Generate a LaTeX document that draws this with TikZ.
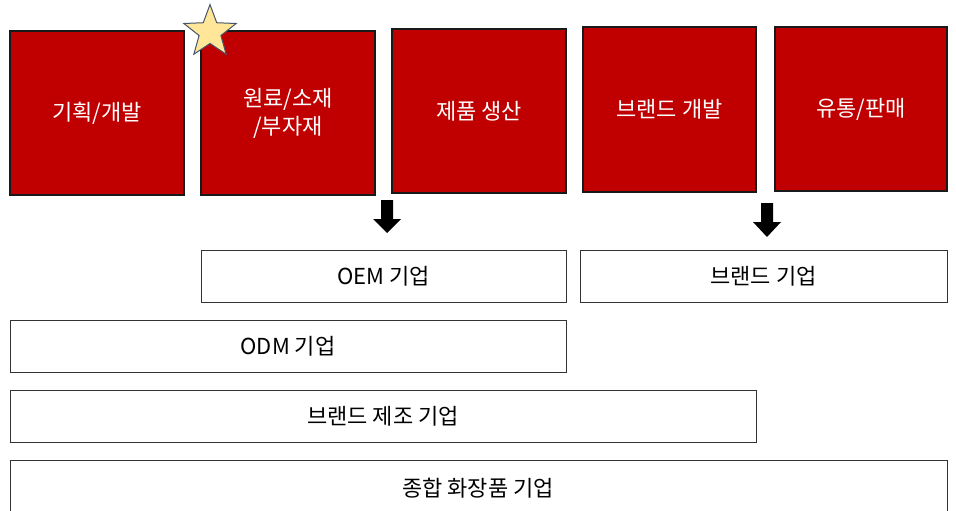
\documentclass[tikz,border=0pt]{standalone}
\usepackage{fontspec}
\setmainfont{Noto Sans CJK KR}
\usetikzlibrary{shapes.geometric}
\definecolor{boxred}{HTML}{C00000}
\definecolor{starfill}{HTML}{FFE699}
\definecolor{starline}{HTML}{44546A}
\begin{document}
\begin{tikzpicture}[x=1pt,y=-1pt,
  redbox/.style={draw=black!90,line width=1.2pt,fill=boxred,text=white,font=\fontsize{22}{28}\selectfont,align=center},
  whitebox/.style={draw=black!80,line width=1pt,fill=white,font=\fontsize{22}{28}\selectfont},
  blockarrow/.style={fill=black}]
\useasboundingbox (0,0) rectangle (956,511);
% red process boxes
\draw[redbox] (10,31) rectangle (184,195) node[midway] (r1) {기획/개발};
\draw[redbox] (201,31) rectangle (375,195) node[midway] (r2) {원료/소재\\/부자재};
\draw[redbox] (392,29) rectangle (566,193) node[midway] (r3) {제품 생산};
\draw[redbox] (583,27) rectangle (756,192) node[midway] (r4) {브랜드 개발};
\draw[redbox] (775,27) rectangle (947,191) node[midway] (r5) {유통/판매};
% star
\node[star,star points=5,star point ratio=2.4,minimum size=55pt,inner sep=0pt,fill=starfill,draw=starline,line width=1pt] (st) at (210,32) {};
% arrows
\fill[blockarrow] (381,200) -- (393,200) -- (393,219) -- (401,219) -- (387,233) -- (373,219) -- (381,219) -- cycle;
\fill[blockarrow] (761,203) -- (773,203) -- (773,222) -- (781,222) -- (767,237) -- (753,222) -- (761,222) -- cycle;
% white boxes
\draw[whitebox] (201,250) rectangle (566,302) node[midway] (oem) {OEM 기업};
\draw[whitebox] (580,250) rectangle (947,302) node[midway] (brand) {브랜드 기업};
\draw[whitebox] (10,320) rectangle (566,372) node[midway] (odm) {ODM 기업};
\draw[whitebox] (10,390) rectangle (756,442) node[midway] (bm) {브랜드 제조 기업};
\draw[whitebox] (10,460) rectangle (947,520);
\node[font=\fontsize{22}{28}\selectfont] (tot) at (478,488) {종합 화장품 기업};
\end{tikzpicture}
\end{document}
